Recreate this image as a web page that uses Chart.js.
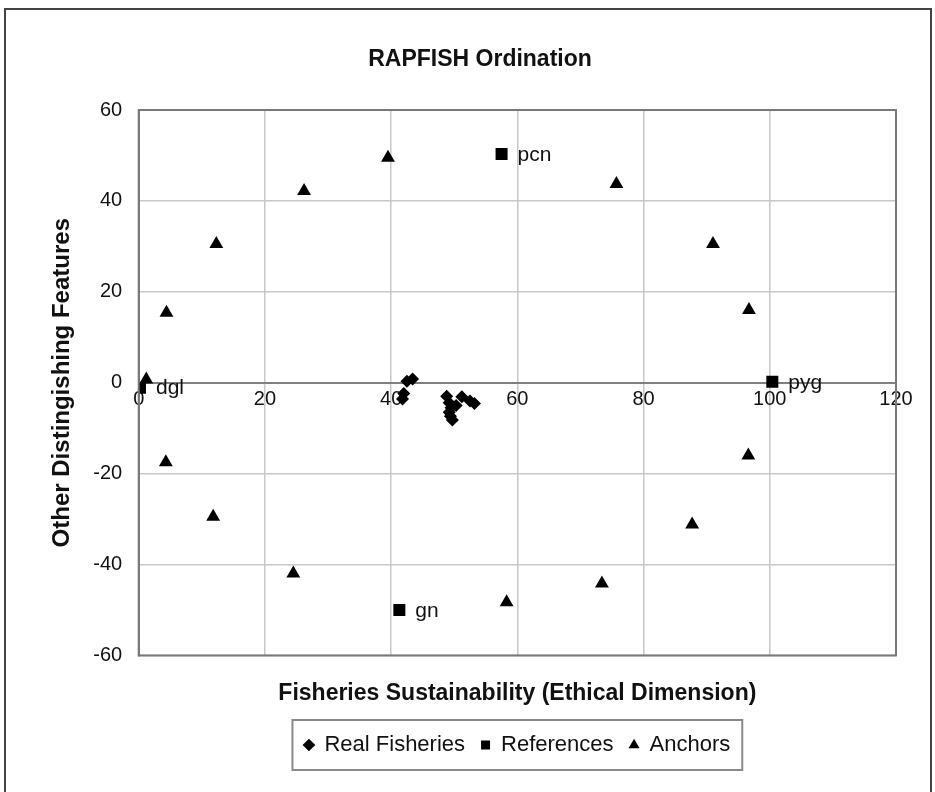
<!DOCTYPE html>
<html>
<head>
<meta charset="utf-8">
<script src="https://cdn.jsdelivr.net/npm/chart.js@4/dist/chart.umd.min.js"></script>
<style>
html,body{margin:0;padding:0;background:#fff;}
#wrap{position:relative;width:935px;height:792px;}
</style>
</head>
<body>
<div id="wrap"><canvas id="c" width="935" height="792"></canvas></div>
<script>
// ---- data ----
const chartTitle = 'RAPFISH Ordination';
const xTitle = 'Fisheries Sustainability (Ethical Dimension)';
const yTitle = 'Other Distingishing Features';
const seriesNames = ['Real Fisheries', 'References', 'Anchors'];

const realX = [42.5, 43.4, 42.0, 41.8, 48.8, 49.2, 49.5, 49.2, 49.4, 49.7, 50.3, 51.2, 52.5, 53.2];
const realY = [0.3, 0.8, -2.4, -3.6, -3.0, -4.4, -5.5, -6.5, -7.4, -8.2, -5.0, -3.1, -4.0, -4.6];

const refX = [0.2, 57.5, 100.4, 41.3];
const refY = [-1.1, 50.3, 0.2, -50.0];
const refLabels = ['dgl', 'pcn', 'pyg', 'gn'];

const anchorX = [1.2, 4.4, 12.3, 26.2, 39.5, 75.7, 91.0, 96.7, 96.6, 87.7, 73.4, 58.3, 24.5, 11.8, 4.3];
const anchorY = [0.7, 15.4, 30.5, 42.2, 49.5, 43.7, 30.5, 16.0, -16.0, -31.2, -44.2, -48.3, -42.0, -29.5, -17.5];

const xTicks = [0, 20, 40, 60, 80, 100, 120];
const yTicks = [-60, -40, -20, 0, 20, 40, 60];

const toPts = (xs, ys) => xs.map((x, i) => ({x: x, y: ys[i]}));

const FONT = "'Liberation Sans', Arial, sans-serif";

const framePlugin = {
  id: 'frame',
  beforeDraw(chart) {
    const ctx = chart.ctx;
    ctx.save();
    ctx.fillStyle = '#fff';
    ctx.fillRect(0, 0, chart.width, chart.height);
    ctx.strokeStyle = '#444';
    ctx.lineWidth = 2;
    ctx.strokeRect(5, 9, 926, 800);
    // chart title (Excel places it slightly left of the plot centre)
    ctx.fillStyle = '#111';
    ctx.font = "bold 23px " + FONT;
    ctx.textAlign = 'center';
    ctx.textBaseline = 'middle';
    ctx.fillText(chartTitle, 480, 60);
    ctx.restore();
  },
  afterDatasetsDraw(chart) {
    const ctx = chart.ctx;
    const a = chart.chartArea;
    ctx.save();
    ctx.strokeStyle = '#7a7a7a';
    ctx.lineWidth = 2;
    ctx.strokeRect(a.left, a.top, a.right - a.left, a.bottom - a.top);
    // reference labels
    const xs = chart.scales.x, ys = chart.scales.y;
    ctx.fillStyle = '#111';
    ctx.font = "21px " + FONT;
    ctx.textBaseline = 'middle';
    ctx.textAlign = 'left';
    refLabels.forEach((t, i) => {
      ctx.fillText(t, xs.getPixelForValue(refX[i]) + 16, ys.getPixelForValue(refY[i]) + 1);
    });
    ctx.restore();
  },
  afterDraw(chart) {
    const lg = chart.legend;
    if (!lg || !lg.legendHitBoxes || !lg.legendHitBoxes.length) return;
    const hb = lg.legendHitBoxes;
    let l = Infinity, r = -Infinity, cy = 0;
    hb.forEach(h => { l = Math.min(l, h.left); r = Math.max(r, h.left + h.width); cy += h.top + h.height / 2; });
    cy /= hb.length;
    const ctx = chart.ctx;
    ctx.save();
    ctx.strokeStyle = '#8a8a8a';
    ctx.lineWidth = 2;
    ctx.strokeRect(l - 12, cy - 25, (r - l) + 24, 50);
    ctx.restore();
  }
};

new Chart(document.getElementById('c'), {
  type: 'scatter',
  data: {
    datasets: [
      { label: seriesNames[0], data: toPts(realX, realY), pointStyle: 'rectRot', pointRadius: 6.5,
        backgroundColor: '#000', borderColor: '#000', borderWidth: 0 },
      { label: seriesNames[1], data: toPts(refX, refY), pointStyle: 'rect', pointRadius: 8.5,
        backgroundColor: '#000', borderColor: '#000', borderWidth: 0 },
      { label: seriesNames[2], data: toPts(anchorX, anchorY), pointStyle: 'triangle', pointRadius: 8,
        backgroundColor: '#000', borderColor: '#000', borderWidth: 0 }
    ]
  },
  options: {
    responsive: false,
    animation: false,
    events: [],
    layout: { padding: { left: 40, right: 39, top: 110, bottom: 26 } },
    plugins: {
      title: { display: false },
      legend: {
        position: 'bottom', fullSize: false,
        labels: { usePointStyle: true, boxWidth: 9, boxHeight: 9, padding: 16, color: '#111',
          font: { family: FONT, size: 22 } }
      },
      tooltip: { enabled: false }
    },
    scales: {
      x: {
        type: 'linear', position: { y: 0 }, min: 0, max: 120,
        afterBuildTicks: s => { s.ticks = xTicks.map(v => ({value: v})); },
        ticks: { color: '#111', font: { family: FONT, size: 20 }, padding: 5, maxRotation: 0 },
        grid: { color: '#c8c8c8', lineWidth: 1.5, drawTicks: false },
        border: { display: true, color: '#808080', width: 2 }
      },
      xt: {
        type: 'linear', position: 'bottom', min: 0, max: 120,
        ticks: { display: false },
        grid: { display: false, drawTicks: false },
        border: { display: false },
        title: { display: true, text: xTitle, color: '#111',
          font: { family: FONT, size: 23, weight: 'bold' }, padding: { top: 24, bottom: 11 } }
      },
      y: {
        type: 'linear', position: 'left', min: -60, max: 60,
        afterBuildTicks: s => { s.ticks = yTicks.map(v => ({value: v})); },
        ticks: { color: '#111', font: { family: FONT, size: 20 }, padding: 16.5 },
        grid: { color: '#c8c8c8', lineWidth: 1.5, drawTicks: false },
        border: { display: true, color: '#7a7a7a', width: 2 },
        title: { display: true, text: yTitle, color: '#111',
          font: { family: FONT, size: 24, weight: 'bold' }, padding: { top: 8, bottom: 0 } }
      }
    }
  },
  plugins: [framePlugin]
});
</script>
</body>
</html>
